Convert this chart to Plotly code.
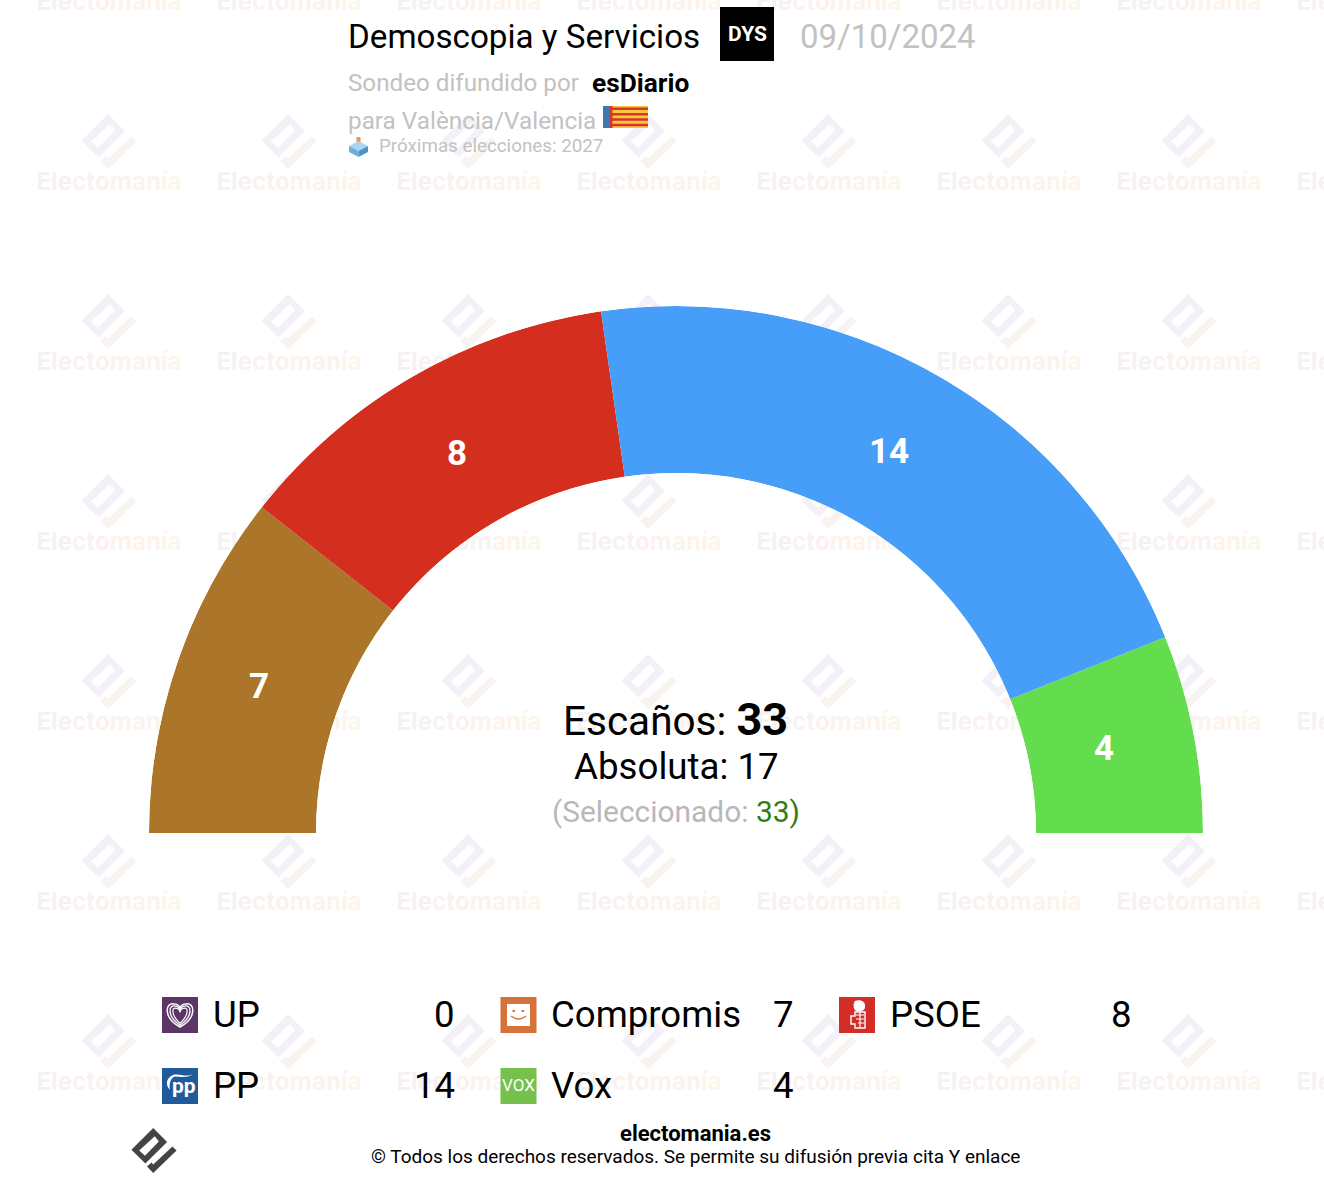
import plotly.graph_objects as go
import numpy as np

partidos = ['UP', 'Compromis', 'PSOE', 'PP', 'Vox']
escanos = [0, 7, 8, 14, 4]
colores = ['#5b3566', '#ab7629', '#d42e1f', '#479ef8', '#63dc4e']
colores_icono = ['#5b3566', '#d5733a', '#d42d28', '#1f5a9a', '#74c14d']
encuestadora = 'Demoscopia y Servicios'
fecha = '09/10/2024'
medio = 'esDiario'
territorio = 'València/Valencia'
proximas = 'Próximas elecciones: 2027'
total = 33
absoluta = 17
seleccionado = 33

W = 1324
H = 1188
CX = 676
CY = 833
R_EXT = 527
R_INT = 360
R_ETIQ = 440
FUENTE = 'Roboto'
GRIS = '#c2c2c2'

esc = np.array(escanos)
ancho = esc / esc.sum() * 180
theta = np.cumsum(ancho) - ancho / 2
# pequenos retoques de las etiquetas sobre el arco
ajuste = [(0, 0), (-1, -3), (1, 2), (-7, 0), (-4, -1)]


def logo(cx, cy, k):
    # rombo con hueco y la marca de abajo, relativo al centro del logo
    rombo = [(-1, -27.5), (16, -10.5), (-10.5, 16), (-27.5, -1)]
    hueco = [(1, -17.5), (-18, 0), (-11, 6.5), (6, -11)]
    marca = [(22.5, -5), (27.5, 0), (-1, 27.5), (-8.5, 19.5), (-3, 14.5), (-1, 17)]
    def p(lista):
        return 'M' + ' L'.join(f'{cx + x * k:.1f},{cy + y * k:.1f}' for x, y in lista) + ' Z'
    return p(rombo) + ' ' + p(hueco), p(marca)


shapes = []


def forma(path, color, capa='above', linea=None, grosor=1):
    shapes.append(dict(type='path', xref='x', yref='y', path=path, layer=capa,
                       fillcolor=color if linea is None else 'rgba(0,0,0,0)',
                       line=dict(width=0 if linea is None else grosor,
                                 color=linea if linea else 'rgba(0,0,0,0)')))


def caja(x0, y0, x1, y1, color):
    shapes.append(dict(type='rect', xref='x', yref='y', x0=x0, y0=y0, x1=x1, y1=y1,
                       fillcolor=color, line_width=0, layer='above'))


# marca de agua
marca_x = []
marca_y = []
for i in range(8):
    for j in range(7):
        marca_x.append(109 + 180 * i)
        marca_y.append(2 + 180 * j)
        if j > 0:
            a, b = logo(109 + 180 * i, 2 + 180 * j - 40.5, 1)
            forma(a, '#f4f0f7', 'below')
            forma(b, '#f9f3ef', 'below')

tonos = ['#f6f1f3', '#f7f1f2', '#f8f1f2', '#f9f2f1', '#faf2f0', '#fbf2ef',
         '#fbf3ee', '#fcf3ed', '#fcf4ec', '#fdf5eb', '#fdf6ea']
palabra = 'Electomanía'
texto_marca = '<b>' + ''.join(f'<span style="color:{c}">{l}</span>' for l, c in zip(palabra, tonos)) + '</b>'

fig = go.Figure()
fig.add_trace(go.Scatter(x=marca_x, y=[m + 2 for m in marca_y], mode='text', text=[texto_marca] * len(marca_x),
                         textposition='middle center', hoverinfo='skip', showlegend=False,
                         textfont=dict(family='Inter', size=24.2, color='#f8f0ee')))
fig.add_trace(go.Barpolar(r=[1] * len(esc), theta=theta, width=ancho, base=0,
                          marker=dict(color=colores, line=dict(width=0)),
                          text=partidos, hoverinfo='text', showlegend=False))

ann = []


def txt(x, y, s, size, color='black', anchor='left'):
    ann.append(dict(xref='x', yref='y', x=x, y=y, text=s, showarrow=False, xanchor=anchor,
                    yanchor='middle', font=dict(family=FUENTE, size=size, color=color)))


# etiquetas de escanos
for n, v in enumerate(escanos):
    if v > 0:
        ang = np.radians(theta[n])
        txt(CX - R_ETIQ * np.cos(ang) + ajuste[n][0], CY - R_ETIQ * np.sin(ang) + ajuste[n][1],
            f'<b>{v}</b>', 35, 'white', 'center')

# cabecera
txt(345.5, 36.5, encuestadora, 33.2)
caja(720, 7, 774, 61, 'black')
txt(747, 34, '<b>DYS</b>', 21, 'white', 'center')
txt(797.5, 36.5, fecha, 33, GRIS)
txt(345.5, 83, 'Sondeo difundido por', 24.2, GRIS)
txt(589.5, 83, f'<b>{medio}</b>', 26.3)
txt(345.5, 120.5, 'para ' + territorio, 24.3, GRIS)
txt(376.5, 146, proximas, 18.8, GRIS)

# bandera
caja(603, 106, 648, 128, '#f7c83c')
for k in range(4):
    caja(612, 107.5 + k * 5.4, 648, 110 + k * 5.4, '#d9362b')
caja(603, 106, 610, 128, '#3f78ae')
caja(610, 106, 612.5, 128, '#d9362b')

# urna
caja(356.5, 137, 360.5, 145, '#e59a4c')
forma('M358.5,141 L368,146 L358.5,151 L349,146 Z', '#a9d5ee')
forma('M349,146 L358.5,151 L358.5,157 L349,152 Z', '#6eaedb')
forma('M368,146 L358.5,151 L358.5,157 L368,152 Z', '#4c93c8')

# centro
txt(CX - 0.5, 719, f'Escaños: <span style="font-size:45px"><b>{total}</b></span>', 40.5, 'black', 'center')
txt(CX, 766, f'Absoluta: {absoluta}', 36.7, 'black', 'center')
txt(CX - 0.5, 811.5, f'(Seleccionado: <span style="color:#2f7f15">{seleccionado})</span>', 29.9, '#b8b8b8', 'center')

# leyenda
col_x = [162, 500.5, 839]
fil_y = [997, 1068]
for n, p in enumerate(partidos):
    x = col_x[n % 3]
    y = fil_y[n // 3]
    caja(x, y, x + 36, y + 36, colores_icono[n])
    txt(x + 48.5, y + 17, p, 36.6)
    txt(x + 295, y + 17, str(escanos[n]), 36.6, 'black', 'right')

# iconos de la leyenda
for k, g in [(0, 1.5), (1, 1.3), (2, 1.2)]:
    e = 1 - k * 0.22
    arriba = 1004 + k * 2.2
    abajo = 1027 - k * 1.8
    forma(f'M180,{abajo} C{180 - 17 * e},{abajo - 9} {180 - 15 * e},{arriba - 2} {180 - 6 * e},{arriba} '
          f'C{180 - 3 * e},{arriba} 180,{arriba + 2} 180,{arriba + 4} '
          f'C180,{arriba + 2} {180 + 3 * e},{arriba} {180 + 6 * e},{arriba} '
          f'C{180 + 15 * e},{arriba - 2} {180 + 17 * e},{abajo - 9} 180,{abajo} Z',
          None, linea='white', grosor=g)
caja(507, 1004, 530, 1026, 'white')
caja(512.5, 1010, 515, 1012, '#d5733a')
caja(521.5, 1010, 524, 1012, '#d5733a')
forma('M511,1016 Q518.5,1022 526,1016', None, linea='#d5733a', grosor=1.4)
forma('M855,1001 C860,999 866,1001 865,1007 C865,1011 860,1012 856,1011 C853,1009 853,1003 855,1001 Z',
      'white')
forma('M855,1012 L865,1012 L865,1028 L855,1028 L855,1024 L851,1024 L851,1016 L855,1016 Z',
      None, linea='white', grosor=1.4)
forma('M856,1015 L864,1015 M856,1019 L864,1019 M858,1023 L864,1023 M860,1012 L860,1028',
      None, linea='white', grosor=1.2)
forma('M170,1090 C165,1085 166,1078 173,1075 C179,1073 186,1078 193,1074 C188,1078 181,1077 175,1076.5 '
      'C170,1078 169,1085 170,1090 Z', 'white')
txt(184, 1086, '<b>pp</b>', 21, 'white', 'center')
txt(518.5, 1085, 'VOX', 17, 'white', 'center')

# pie
a, b = logo(154, 1150.5, 0.82)
forma(a, '#444444')
forma(b, '#444444')
txt(695.5, 1133, '<b>electomania.es</b>', 22, 'black', 'center')
txt(695, 1156.5, '© Todos los derechos reservados. Se permite su difusión previa cita Y enlace', 19, 'black', 'center')

fig.update_layout(
    width=W, height=H, margin=dict(l=0, r=0, t=0, b=0), autosize=False,
    paper_bgcolor='white', plot_bgcolor='rgba(0,0,0,0)', showlegend=False,
    xaxis=dict(range=[0, W], visible=False, fixedrange=True, domain=[0, 1]),
    yaxis=dict(range=[H, 0], visible=False, fixedrange=True, domain=[0, 1]),
    polar=dict(
        domain=dict(x=[(CX - R_EXT) / W, (CX + R_EXT) / W], y=[(H - CY) / H, (H - CY + R_EXT) / H]),
        sector=[0, 180], hole=R_INT / R_EXT, bgcolor='rgba(0,0,0,0)', bargap=0,
        radialaxis=dict(range=[0, 1], visible=False),
        angularaxis=dict(direction='clockwise', rotation=180, visible=False),
    ),
    shapes=shapes, annotations=ann,
)
fig.write_html("out.html", config=dict(displayModeBar=False),
               post_script="document.body.style.margin='0';")
